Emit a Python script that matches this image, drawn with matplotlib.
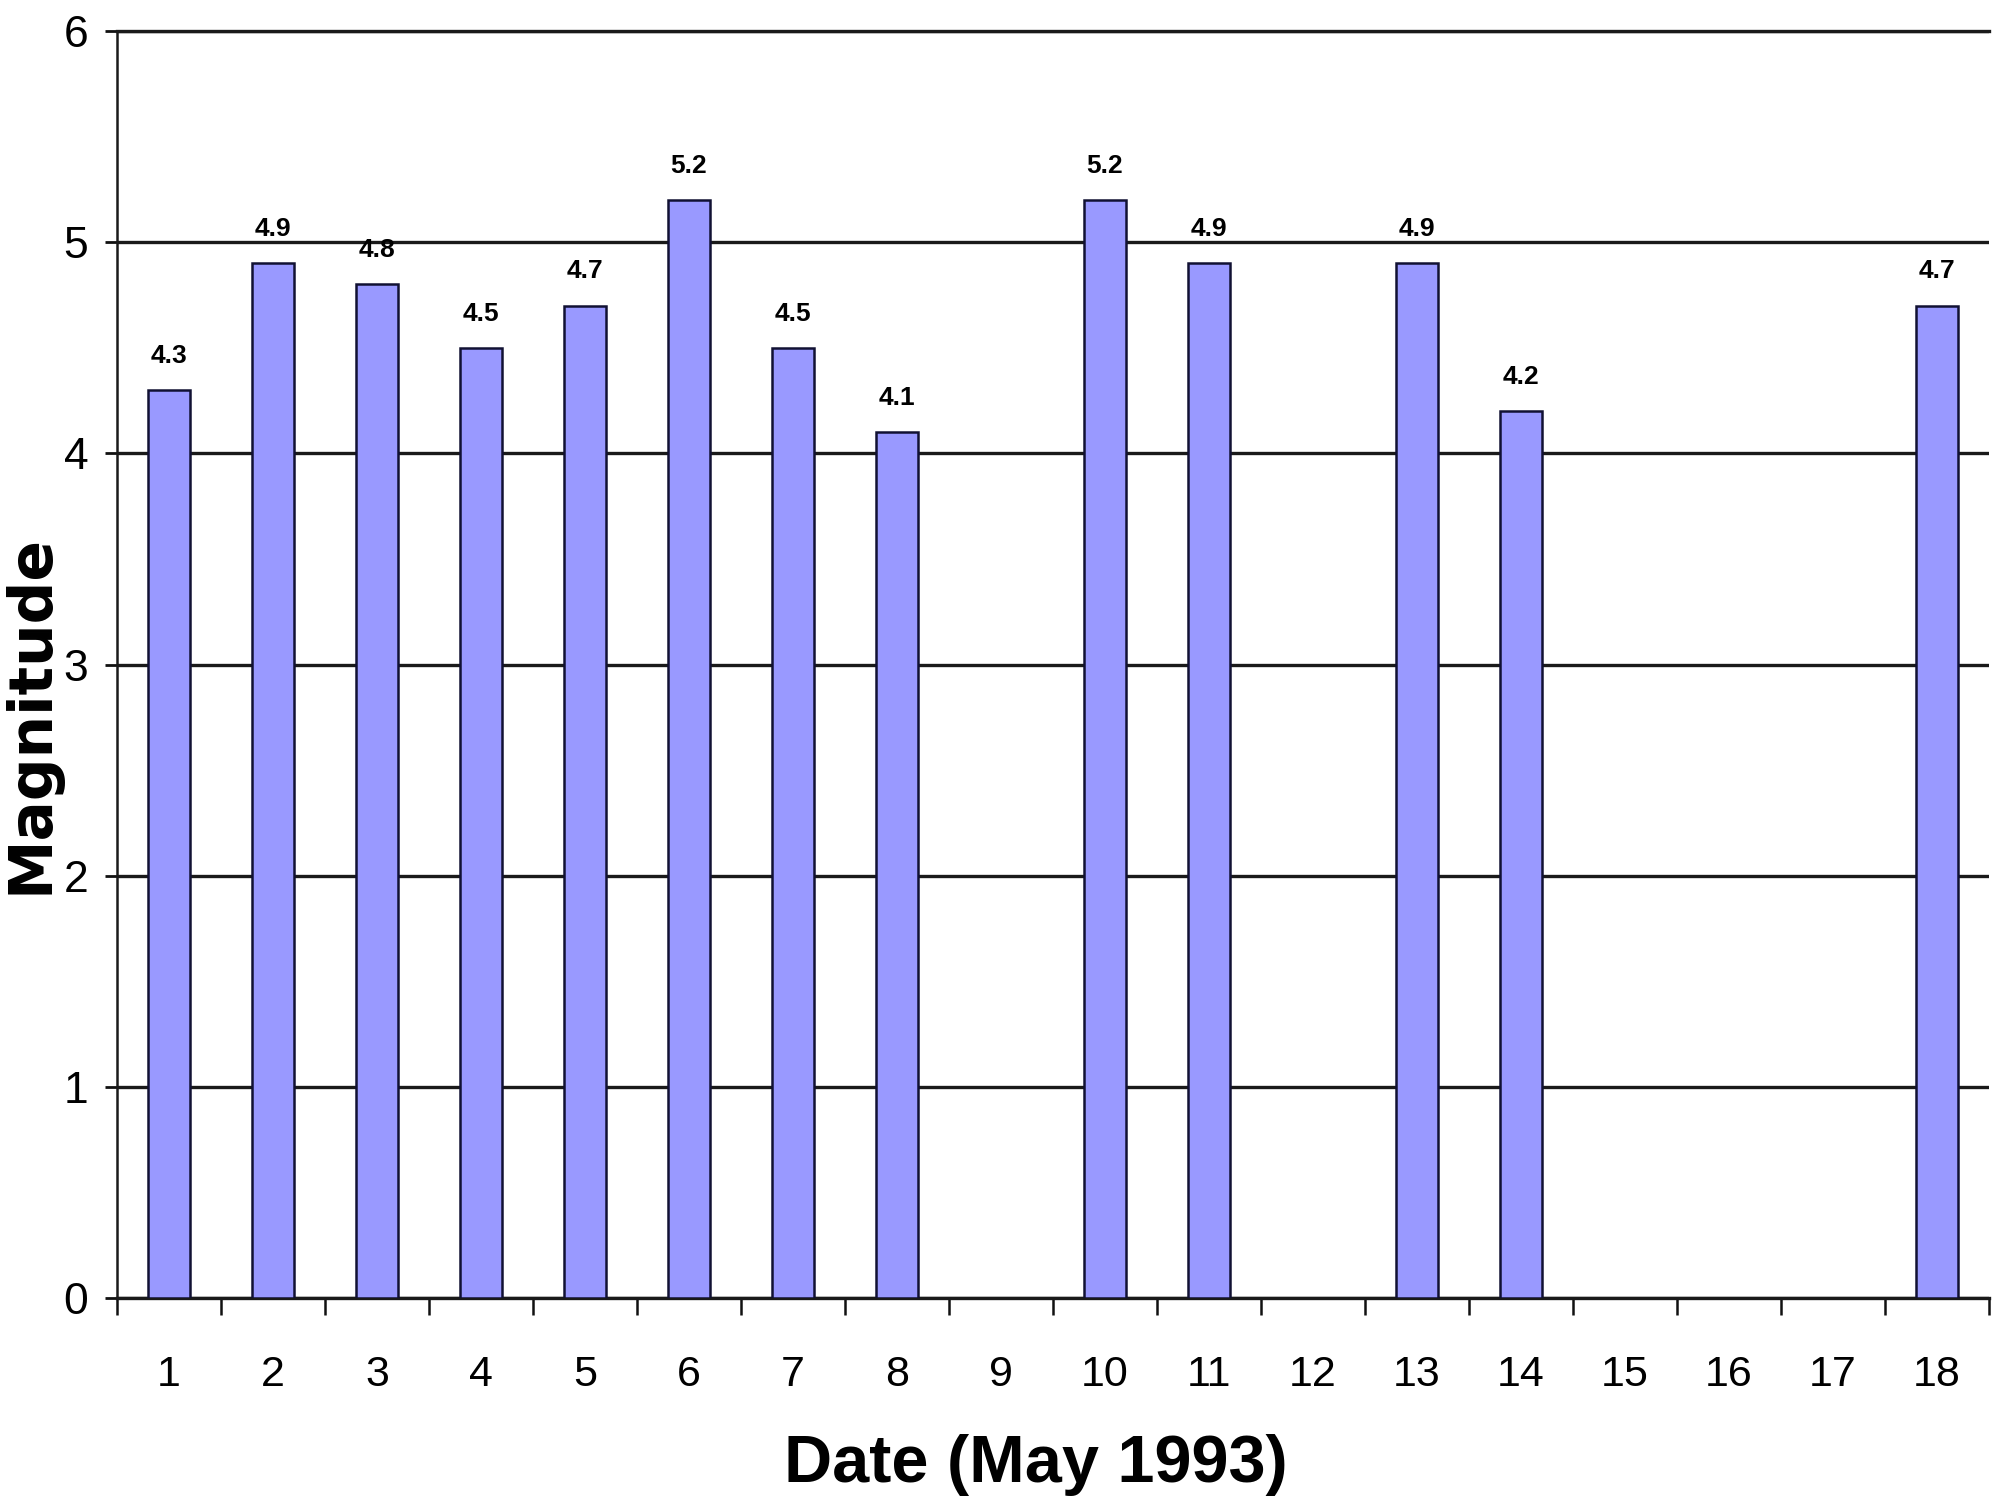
import matplotlib
matplotlib.use("Agg")
import matplotlib.pyplot as plt
import numpy as np

# data
dates = ["1", "2", "3", "4", "5", "6", "7", "8", "9", "10",
         "11", "12", "13", "14", "15", "16", "17", "18"]
magnitude = [4.3, 4.9, 4.8, 4.5, 4.7, 5.2, 4.5, 4.1, None, 5.2,
             4.9, None, 4.9, 4.2, None, None, None, 4.7]
yticks = [0, 1, 2, 3, 4, 5, 6]

font = ["Liberation Sans", "DejaVu Sans"]

fig = plt.figure(figsize=(19.99, 15.11), dpi=100)
ax = fig.add_axes([0.0585, 0.1409, 0.9365, 0.8386])

x = np.arange(len(dates))
vals = np.array([np.nan if v is None else v for v in magnitude])
ax.bar(x, vals, width=0.41, color="#9999ff", edgecolor="#111133", linewidth=1.8, zorder=3)

# value labels above bars
for xi, v in zip(x, magnitude):
    if v is None:
        continue
    ax.annotate("%.1f" % v, (xi, v), xytext=(0, 16), textcoords="offset points",
                ha="center", va="bottom", fontsize=19, fontweight="bold", family=font)

ax.set_xlim(-0.5, len(dates) - 0.5)
ax.set_ylim(0, 6)

# ticks between categories, labels in the middle
ax.set_xticks(np.arange(len(dates) + 1) - 0.5)
ax.set_xticklabels([])
ax.set_xticks(x, minor=True)
ax.set_xticklabels(dates, minor=True, family=font, fontsize=31)
ax.tick_params(axis="x", which="major", direction="out", length=12, width=1.8, color="#111111")
ax.tick_params(axis="x", which="minor", length=0, pad=41)

ax.set_yticks(yticks)
ax.set_yticklabels([str(t) for t in yticks], family=font, fontsize=32)
ax.tick_params(axis="y", direction="out", length=8.6, width=2, color="#111111", pad=12)

ax.grid(axis="y", color="#1a1a1a", linewidth=2.4, zorder=1)
ax.set_axisbelow(True)

for s in ["left", "bottom", "top"]:
    ax.spines[s].set_color("#1a1a1a")
    ax.spines[s].set_linewidth(2.4)
ax.spines["left"].set_linewidth(1.8)
ax.spines["right"].set_visible(False)

ax.set_xlabel("Date (May 1993)", fontsize=48, fontweight="bold", family=font)
ax.xaxis.set_label_coords(0.491, -0.107)
ax.set_ylabel("Magnitude", fontsize=43, fontweight="bold", family=["DejaVu Sans"])
ax.yaxis.set_label_coords(-0.0300, 0.461)

fig.savefig("out.png", dpi=100)
